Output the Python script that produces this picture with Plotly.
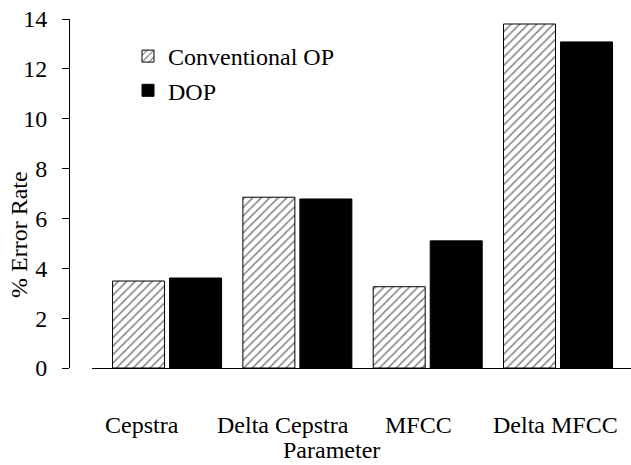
import plotly.graph_objects as go

categories = ["Cepstra", "Delta Cepstra", "MFCC", "Delta MFCC"]
conventional_op = [3.49, 6.85, 3.26, 13.8]
dop = [3.61, 6.78, 5.1, 13.08]
y_ticks = [0, 2, 4, 6, 8, 10, 12, 14]

# style: horizontal offset (px) of each category label
label_shift = [-25, -14, -9, -3]

W, H = 631, 465
PH = H - 19 - 97
FONT = "Liberation Serif, Times New Roman, serif"
FS = 24

fig = go.Figure()
fig.add_trace(go.Bar(
    x=categories, y=conventional_op, name="Conventional OP",
    marker=dict(color="white", line=dict(color="black", width=1),
                pattern=dict(shape="/", fgcolor="black", bgcolor="white", size=6, solidity=0.25)),
))
fig.add_trace(go.Bar(
    x=categories, y=dop, name="DOP",
    marker=dict(color="black", line=dict(color="black", width=1)),
))

annotations = []
for c, s in zip(categories, label_shift):
    annotations.append(dict(x=c, xref="x", y=-(425 - 368) / PH, yref="paper", text=c, showarrow=False,
                            xshift=s, font=dict(family=FONT, size=FS, color="black"),
                            xanchor="center", yanchor="middle"))
annotations.append(dict(x=331 / W, xref="paper", y=-(450 - 368) / PH, yref="paper",
                        text="Parameter", showarrow=False,
                        font=dict(family=FONT, size=FS, color="black"),
                        xanchor="center", yanchor="middle"))
annotations.append(dict(x=19 / W, xref="paper", y=1 - (235 - 19) / PH, yref="paper",
                        text="% Error Rate", showarrow=False, textangle=-90,
                        font=dict(family=FONT, size=FS, color="black"),
                        xanchor="center", yanchor="middle"))

fig.update_layout(
    width=W, height=H,
    margin=dict(l=0, r=0, t=19, b=97),
    paper_bgcolor="white", plot_bgcolor="white",
    barmode="group", bargap=0.125, bargroupgap=0.088,
    font=dict(family=FONT, size=FS, color="black"),
    showlegend=True,
    legend=dict(x=128 / W, y=1 - (34 - 19) / PH, xanchor="left", yanchor="top",
                bgcolor="rgba(0,0,0,0)", font=dict(family=FONT, size=FS, color="black"),
                itemwidth=30, tracegroupgap=0),
    xaxis=dict(domain=[92 / W, 1], range=[-0.576, 3.56], showline=True, linecolor="black",
               linewidth=1, ticks="", showticklabels=False, showgrid=False, zeroline=False,
               automargin=False),
    yaxis=dict(range=[0, 14], tickvals=y_ticks, anchor="free", position=69 / W,
               showline=True, linecolor="black", linewidth=1, ticks="outside", ticklen=7,
               tickcolor="black", tickwidth=1, showgrid=False, zeroline=False,
               tickfont=dict(family=FONT, size=FS, color="black"), ticklabelstandoff=10,
               automargin=False),
    annotations=annotations,
)

fig.write_html("out.html")
